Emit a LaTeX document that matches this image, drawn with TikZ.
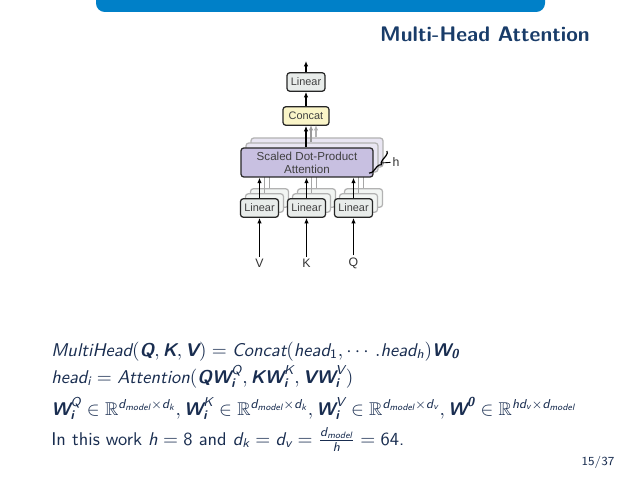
\documentclass[tikz,border=0pt]{standalone}
\usepackage{amsmath,amssymb}
\usepackage{fontspec}
\usepackage{xcolor}
\usepackage{tikz}
\usetikzlibrary{positioning,arrows.meta,decorations.pathreplacing}
\newfontfamily\diagfont{Liberation Sans}
\definecolor{barblue}{RGB}{0,128,200}
\definecolor{titleblue}{RGB}{25,60,105}
\definecolor{textblue}{RGB}{25,45,80}
\definecolor{linfill}{RGB}{232,236,234}
\definecolor{catfill}{RGB}{250,245,200}
\definecolor{attfill}{RGB}{200,192,225}
\newcommand{\svar}[1]{\textsf{\itshape #1}}
\newcommand{\sbvar}[1]{\textsf{\bfseries\itshape #1}}
\newcommand{\snum}[1]{\textsf{#1}}

\begin{document}
\begin{tikzpicture}[x=0.02cm, y=-0.02cm,
  lin/.style={draw=black!85, fill=linfill, rounded corners=1.6pt, line width=0.7pt,
              minimum width=0.76cm, minimum height=0.37cm, inner sep=0pt,
              font=\diagfont\fontsize{6.2}{7}\selectfont, text=black!75},
  linbk/.style={lin, draw=black!30, fill=linfill!55},
  cat/.style={lin, fill=catfill, minimum width=0.92cm},
  att/.style={lin, fill=attfill, minimum width=2.64cm, minimum height=0.58cm, align=center,
              font=\diagfont\fontsize{6.6}{7.4}\selectfont},
  attbk/.style={att, draw=black!30, fill=attfill!40},
  lbl/.style={font=\diagfont\fontsize{7}{8}\selectfont, text=black!80, inner sep=1pt},
  arr/.style={-{Latex[length=1.1mm,width=0.9mm]}, line width=0.7pt},
  garr/.style={arr, draw=black!40},
  eq/.style={anchor=base west, text=textblue, font=\sffamily\fontsize{10.5}{12.5}\selectfont, inner sep=0pt}]
\fill[white] (0,0) rectangle (638,479);
\useasboundingbox (0,0) rectangle (638,479);
% header
\fill[barblue, rounded corners=5pt] (96,-10) rectangle (545,12);
\node[anchor=east, inner sep=0pt, text=titleblue, font=\sffamily\bfseries\large] (title) at (590,34) {Multi-Head Attention};
% h stacked heads, back to front
\node[attbk] (attB2) at (317,152.5) {};
\node[attbk] (attB1) at (312,157.5) {};
\foreach \x/\n in {259.5/V, 306.5/K, 353.5/Q} {
  \node[linbk] (lin\n B2) at (\x+10,198) {};
  \node[linbk] (lin\n B1) at (\x+5,203) {};
  \draw[black!35, line width=0.7pt] (lin\n B2.north) -- (lin\n B2.north |- attB2.south);
  \draw[black!35, line width=0.7pt] (lin\n B1.north) -- (lin\n B1.north |- attB1.south);
}
\node[att] (att) at (307,162.5) {Scaled Dot-Product\\Attention};
\foreach \x/\n in {259.5/V, 306.5/K, 353.5/Q} {
  \node[lin] (lin\n) at (\x,208) {Linear};
  \node[lbl] (in\n) at (\x,263) {\n};
  \draw[arr] (in\n) -- (lin\n);
  \draw[arr] (lin\n) -- (lin\n.north |- att.south);
}
% concat and output
\node[cat] (concat) at (306,116) {Concat};
\node[lin] (linO) at (306,82) {Linear};
\coordinate (out) at (306,61);
\coordinate (c1) at (311,125);
\coordinate (c2) at (316,125);
\draw[garr, draw=black!30] (c2 |- attB2.north) -- (c2);
\draw[garr] (c1 |- attB1.north) -- (c1);
\draw[arr] (concat.south |- att.north) -- (concat.south);
\draw[arr] (concat) -- (linO);
\draw[arr] (linO) -- (out);
% h brace
\coordinate (hT) at (387,151);
\coordinate (hB) at (369,173);
\draw[decorate, decoration={brace, amplitude=2.5pt}, line width=0.7pt] (hT) -- (hB);
\node[lbl] (h) at (396,162) {h};
\coordinate (hm) at (381,163);
\draw[line width=0.5pt] (hm) -- (h);
% equations
\node[eq] (e1) at (51,356) {$\svar{MultiHead}(\sbvar{Q},\sbvar{K},\sbvar{V}) = \svar{Concat}(\svar{head}_{\snum{1}},\cdots.\svar{head}_{\svar{h}})\sbvar{W}_{\sbvar{0}}$};
\node[eq] (e2) at (51,383) {$\svar{head}_{\svar{i}} = \svar{Attention}(\sbvar{QW}^{\svar{Q}}_{\sbvar{i}},\sbvar{KW}^{\svar{K}}_{\sbvar{i}},\sbvar{VW}^{\svar{V}}_{\sbvar{i}})$};
\node[eq] (e3) at (51,415) {$\sbvar{W}^{\svar{Q}}_{\sbvar{i}} \in \mathbb{R}^{\svar{d}_{\svar{model}}\times\svar{d}_{\svar{k}}}, \sbvar{W}^{\svar{K}}_{\sbvar{i}} \in \mathbb{R}^{\svar{d}_{\svar{model}}\times\svar{d}_{\svar{k}}}, \sbvar{W}^{\svar{V}}_{\sbvar{i}} \in \mathbb{R}^{\svar{d}_{\svar{model}}\times\svar{d}_{\svar{v}}}, \sbvar{W}^{\sbvar{0}} \in \mathbb{R}^{\svar{hd}_{\svar{v}}\times\svar{d}_{\svar{model}}}$};
\node[eq] (e4) at (51,445) {In this work $\svar{h} = \snum{8}$ and $\svar{d}_{\svar{k}} = \svar{d}_{\svar{v}} = \frac{\svar{d}_{\svar{model}}}{\svar{h}} = \snum{64}$.};
\node[text=textblue, font=\sffamily\scriptsize] (page) at (598,462) {15/37};
\end{tikzpicture}
\end{document}
